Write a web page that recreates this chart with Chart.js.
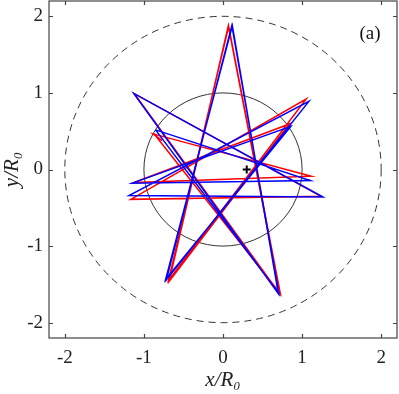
<!DOCTYPE html>
<html>
<head>
<meta charset="utf-8">
<script src="https://cdn.jsdelivr.net/npm/chart.js@4/dist/chart.umd.min.js"></script>
<style>
  html, body { margin: 0; padding: 0; background: #fff; }
  #wrap { width: 399px; height: 394px; }
</style>
</head>
<body>
<div id="wrap"><canvas id="orbit"></canvas></div>
<script>
// tick values
const xTicks = [-2, -1, 0, 1, 2];
const yTicks = [-2, -1, 0, 1, 2];

// reference circles (radius in R0)
const circleSolid = [1];
const circleDashed = [2];

// blue trajectory
const blueX = [-0.853, 1.103, -1.145, 0.858, -0.726, 0.118, 0.700, -1.128, 1.264, -1.188, 1.086, -0.716, 0.112, 0.705, -0.853];
const blueY = [0.517, -0.143, -0.178, 0.564, -1.437, 1.875, -1.620, 0.993, -0.360, -0.339, 0.889, -1.440, 1.880, -1.615, 0.517];

// red trajectory
const redX = [-0.769, -0.883, 1.115, -1.130, 0.840, -0.680, 0.067, 0.722, -1.120, 1.240, -1.166, 1.052, -0.690, 0.072, 0.725, -0.875];
const redY = [0.378, 0.465, -0.087, -0.170, 0.595, -1.458, 1.875, -1.628, 0.990, -0.350, -0.390, 0.920, -1.450, 1.870, -1.620, 0.470];

// black marker
const markX = [0.30];
const markY = [0.0];

const toPts = (xs, ys) => xs.map((x, i) => ({ x: x, y: ys[i] }));

const serif = "'Liberation Serif', 'DejaVu Serif', serif";

/* ---------------- extras: circles, frame, inward ticks, panel label ---------------- */
const extras = {
  id: "extras",
  beforeDatasetsDraw(chart) {
    const { ctx, scales } = chart;
    const xs = scales.x, ys = scales.y;
    const cx = xs.getPixelForValue(0), cy = ys.getPixelForValue(0);
    const draw = (r, dash) => {
      const rx = Math.abs(xs.getPixelForValue(r) - cx);
      const ry = Math.abs(ys.getPixelForValue(r) - cy);
      ctx.save();
      ctx.strokeStyle = "#333";
      ctx.lineWidth = 1;
      ctx.setLineDash(dash);
      ctx.beginPath();
      ctx.ellipse(cx, cy, rx, ry, 0, 0, Math.PI * 2);
      ctx.stroke();
      ctx.restore();
    };
    circleSolid.forEach((r) => draw(r, []));
    circleDashed.forEach((r) => draw(r, [7, 5]));
  },
  afterDraw(chart) {
    const { ctx, chartArea: a, scales } = chart;
    ctx.save();
    ctx.strokeStyle = "#444";
    ctx.lineWidth = 1.2;
    ctx.strokeRect(a.left, a.top, a.right - a.left, a.bottom - a.top);
    ctx.beginPath();
    xTicks.forEach((v) => {
      const p = Math.round(scales.x.getPixelForValue(v)) + 0.5;
      ctx.moveTo(p, a.bottom); ctx.lineTo(p, a.bottom - 4);
      ctx.moveTo(p, a.top); ctx.lineTo(p, a.top + 4);
    });
    yTicks.forEach((v) => {
      const p = Math.round(scales.y.getPixelForValue(v)) + 0.5;
      ctx.moveTo(a.left, p); ctx.lineTo(a.left + 4, p);
      ctx.moveTo(a.right, p); ctx.lineTo(a.right - 4, p);
    });
    ctx.stroke();
    ctx.fillStyle = "#111";
    ctx.font = "19px " + serif;
    ctx.textAlign = "center";
    ctx.textBaseline = "middle";
    ctx.fillText("(a)", a.right - 27, a.top + 33);
    ctx.restore();
  },
};

const ctx = document.getElementById("orbit").getContext("2d");

new Chart(ctx, {
  type: "scatter",
  data: {
    datasets: [
      {
        label: "marker",
        data: toPts(markX, markY),
        pointStyle: "cross",
        pointRadius: 4,
        borderWidth: 2,
        borderColor: "#000",
        order: 0,
      },
      {
        label: "blue",
        data: toPts(blueX, blueY),
        showLine: true,
        borderColor: "#0000ff",
        borderWidth: 1.5,
        pointRadius: 0,
        tension: 0,
        order: 1,
      },
      {
        label: "red",
        data: toPts(redX, redY),
        showLine: true,
        borderColor: "#ff0000",
        borderWidth: 1.5,
        pointRadius: 0,
        tension: 0,
        order: 2,
      },
    ],
  },
  options: {
    responsive: true,
    maintainAspectRatio: false,
    animation: false,
    layout: { autoPadding: false, padding: { top: 1, right: 2, left: 0, bottom: 0 } },
    plugins: { legend: { display: false }, tooltip: { enabled: false } },
    scales: {
      x: {
        type: "linear",
        min: -2.2,
        max: 2.2,
        afterBuildTicks: (s) => { s.ticks = xTicks.map((v) => ({ value: v })); },
        afterFit: (s) => { s.height = 56; s.paddingLeft = 0; s.paddingRight = 0; },
        grid: { display: false, drawTicks: false },
        border: { display: false },
        ticks: { color: "#222", padding: 9, font: { family: serif, size: 19 } },
        title: {
          display: true,
          text: "x/R₀",
          color: "#222",
          padding: { top: 0, bottom: 1 },
          font: { family: serif, size: 21, style: "italic" },
        },
      },
      y: {
        type: "linear",
        min: -2.2,
        max: 2.2,
        afterBuildTicks: (s) => { s.ticks = yTicks.map((v) => ({ value: v })); },
        afterFit: (s) => { s.width = 49; s.paddingTop = 0; s.paddingBottom = 0; },
        grid: { display: false, drawTicks: false },
        border: { display: false },
        ticks: { color: "#222", padding: 6, font: { family: serif, size: 19 } },
        title: {
          display: true,
          text: "y/R₀",
          color: "#222",
          padding: { top: 0, bottom: 0 },
          font: { family: serif, size: 21, style: "italic" },
        },
      },
    },
  },
  plugins: [extras],
});
</script>
</body>
</html>
